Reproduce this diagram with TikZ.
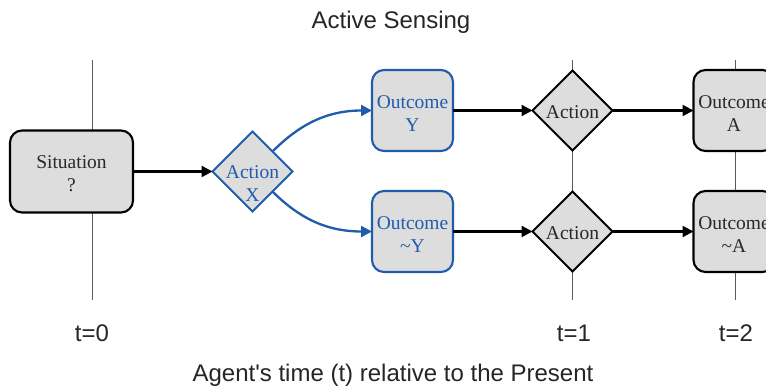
\documentclass[tikz,border=0pt]{standalone}
\usepackage{fontspec}
\setmainfont{Liberation Serif}
\newfontfamily\labelfont{Liberation Sans}
\usetikzlibrary{shapes.geometric,arrows.meta}

\definecolor{flowblue}{RGB}{32,92,172}
\definecolor{boxfill}{RGB}{221,221,221}
\definecolor{boxtext}{RGB}{40,40,40}
\definecolor{timeline}{RGB}{90,90,90}

\tikzset{
  every node/.style={inner sep=0pt, outer sep=0pt},
  statebox/.style={rectangle, rounded corners=12pt, draw=black, line width=2.1pt,
    fill=boxfill, text=boxtext, minimum width=81pt, minimum height=81pt},
  bluebox/.style={statebox, draw=flowblue},
  choice/.style={diamond, aspect=1, draw=black, line width=2.1pt, fill=boxfill,
    minimum width=80pt, minimum height=80pt},
  bluechoice/.style={choice, draw=flowblue},
  choicetext/.style={align=center, font=\fontsize{19.5}{23}\selectfont, text=boxtext},
  flow/.style={line width=2.3pt, draw=black, -{Triangle[length=11pt,width=11pt]}},
  blueflow/.style={flow, draw=flowblue},
  timeaxis/.style={draw=timeline, line width=1pt},
  caption/.style={font=\labelfont\fontsize{24}{28}\selectfont, text=black!85},
}

\begin{document}
\begin{tikzpicture}[x=1pt, y=-1pt]
  \useasboundingbox (0,0) rectangle (766,390);
  \clip (0,0) rectangle (766,390);
  \fill[white] (0,0) rectangle (766,390);

  % time axes
  \coordinate (t0top) at (92,60);   \coordinate (t0bot) at (92,300);
  \coordinate (t1top) at (572,60);  \coordinate (t1bot) at (572,300);
  \coordinate (t2top) at (735,60);  \coordinate (t2bot) at (735,300);
  \draw[timeaxis] (t0top) -- (t0bot);
  \draw[timeaxis] (t1top) -- (t1bot);
  \draw[timeaxis] (t2top) -- (t2bot);

  % title and axis labels
  \node[caption] (title) at (391,22) {Active Sensing};
  \node[caption] (lt0) at (92,333) {t=0};
  \node[caption] (lt1) at (574,333) {t=1};
  \node[caption] (lt2) at (736,333) {t=2};
  \node[caption] (axis) at (393,375) {Agent's time (t) relative to the Present};

  % states and choices, each with its text set slightly below centre
  \node[statebox, minimum width=123pt, minimum height=82pt] (sit) at (71.5,171.5) {};
  \node[choicetext] (sittext) at (71.5,174) {Situation\\?};
  \node[bluechoice] (actx) at (252.5,171.5) {};
  \node[choicetext, text=flowblue] (actxtext) at (252.5,184) {Action\\X};
  \node[bluebox] (outy) at (412.5,110.5) {};
  \node[choicetext, text=flowblue] (outytext) at (412.5,114) {Outcome\\Y};
  \node[bluebox] (outny) at (412.5,231.5) {};
  \node[choicetext, text=flowblue] (outnytext) at (412.5,235) {Outcome\\\textasciitilde Y};
  \node[choice] (act1) at (572.5,110.5) {};
  \node[choicetext] (act1text) at (572.5,112) {Action};
  \node[choice] (act2) at (572.5,231.5) {};
  \node[choicetext] (act2text) at (572.5,233) {Action};
  \node[statebox] (outa) at (734,110.5) {};
  \node[choicetext] (outatext) at (734,114) {Outcome\\A};
  \node[statebox] (outna) at (734,231.5) {};
  \node[choicetext] (outnatext) at (734,235) {Outcome\\\textasciitilde A};

  % connectors
  \draw[flow] (sit.east) -- (actx.west);
  \draw[blueflow] (actx.north east) to[out=45, in=180] (outy.west);
  \draw[blueflow] (actx.south east) to[out=-45, in=180] (outny.west);
  \draw[flow] (outy.east) -- (act1.west);
  \draw[flow] (outny.east) -- (act2.west);
  \draw[flow] (act1.east) -- (outa.west);
  \draw[flow] (act2.east) -- (outna.west);
\end{tikzpicture}
\end{document}
